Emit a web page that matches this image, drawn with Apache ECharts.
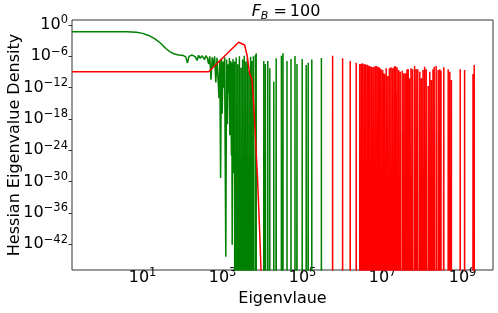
<!DOCTYPE html>
<html><head><meta charset="utf-8">
<script src="https://cdn.jsdelivr.net/npm/echarts@6/dist/echarts.min.js"></script>
<style>html,body{margin:0;padding:0;background:#fff}#c{width:498px;height:313px}</style>
</head><body><div id="c"></div>
<script>
// All values are log10 exponents (log-log chart). null = zero density (log10 -> -inf).
const Z = null;
const xName = 'Eigenvlaue';
const yName = 'Hessian Eigenvalue Density';
const xRange = [-0.765, 9.76];
const yRange = [-46.93, 0.96];
const xTickExponents = [1, 3, 5, 7, 9];
const yTickExponents = [0, -6, -12, -18, -24, -30, -36, -42];

// [log10(eigenvalue), log10(density)]
const greenPoints = [
[-0.77,-1.28],[0.3,-1.28],[0.6,-1.3],[0.85,-1.4],[1.0,-1.6],[1.15,-2.0],[1.3,-2.6],[1.45,-3.5],[1.58,-4.5],[1.68,-5.1],[1.78,-5.5],[1.9,-5.75],[2.02,-5.86],
[2.08,-6.1],[2.12,-7.3],[2.16,-6.0],[2.2,-6.2],[2.24,-5.75],[2.28,-6.0],[2.32,-6.1],[2.36,-6.8],[2.4,-5.8],[2.44,-6.4],[2.48,-5.9],[2.52,-5.6],[2.55,-6.6],[2.58,-5.9],[2.62,-6.3],[2.65,-7.5],[2.68,-6.0],[2.71,-10.5],[2.74,-6.2],[2.77,-8.0],[2.8,-6.0],[2.83,-11.0],[2.86,-6.3],
[2.89,-6.5],[2.91,-14],[2.93,-6.8],[2.95,-29.3],[2.97,-6.4],[2.99,-17],[3.01,-7.0],[3.03,-12],[3.05,-6.2],[3.08,-44.4],[3.10,-6.6],[3.12,-19],[3.14,-7.5],[3.16,-13],[3.17,-6.3],[3.18,-21.1],[3.2,-6.9],[3.22,-25],[3.23,-7.2],[3.24,-42.1],[3.26,-6.5],[3.28,-28.4],[3.30,-7.0],
[3.32,Z],[3.34,-6.2],[3.36,Z],[3.38,-7.5],[3.40,Z],[3.42,-6.0],[3.44,Z],[3.46,-8.2],[3.48,Z],[3.50,-6.6],[3.52,Z],[3.54,-5.9],[3.56,Z],[3.58,-7.0],[3.60,Z],[3.62,-6.3],[3.64,Z],[3.66,-8.8],[3.68,Z],[3.70,-6.1],[3.72,Z],[3.73,-6.9],[3.75,Z],[3.77,-6.0],[3.79,Z],[3.81,Z],[3.82,-5.75],[3.83,Z],[3.84,-5.42],[3.85,Z],
[4.02,Z],[4.03,-6.89],[4.05,Z],[4.07,-7.47],[4.09,Z],[4.12,Z],[4.13,-6.89],[4.14,Z],[4.17,Z],[4.18,-8.3],[4.19,Z],[4.27,Z],[4.28,-10.86],[4.29,Z],[4.33,Z],[4.34,-6.38],[4.35,Z],
[4.46,Z],[4.47,-5.88],[4.48,Z],[4.50,Z],[4.51,-5.42],[4.52,Z],[4.60,Z],[4.61,-6.89],[4.62,Z],[4.70,Z],[4.71,-6.51],[4.72,Z],[4.80,Z],[4.81,-5.94],[4.82,Z],[4.85,Z],[4.86,-7.47],[4.87,Z],
[4.98,Z],[4.99,-6.51],[5.00,Z],[5.08,Z],[5.09,-7.66],[5.10,Z],[5.13,Z],[5.14,-7.22],[5.15,Z],[5.22,Z],[5.23,-6.61],[5.24,Z],[5.46,Z],[5.47,-6.32],[5.48,Z],[9.76,Z]
];

const redPoints = [
[-0.77,-8.94],[2.65,-8.94],[3.40,-3.31],[3.55,-3.83],[3.61,-5.75],[3.675,-9.25],[3.735,-10.53],[3.76,-13.1],[3.79,-16.85],[3.875,-29.69],[3.925,-39.26],[3.96,-46.93],[4.0,Z],
[5.74,Z],[5.75,-5.88],[5.76,Z],[5.99,Z],[6.00,-6.38],[6.01,Z],[6.18,Z],[6.19,-6.90],[6.20,Z],[6.33,Z],[6.34,-7.22],[6.35,Z],[6.42,Z],[6.43,-7.47],[6.45,Z],[6.47,-7.4],[6.49,Z],[6.50,-7.34],[6.52,Z],[6.54,-7.5],[6.56,Z],[6.57,-7.53],[6.59,Z],[6.61,-7.6],[6.62,Z],[6.63,-7.66],[6.65,Z],[6.66,-7.9],[6.67,Z],[6.68,-7.85],[6.70,Z],[6.72,-8.0],[6.73,Z],[6.74,-8.10],[6.76,Z],[6.78,-7.99],[6.80,Z],[6.82,-7.9],[6.83,Z],[6.84,-7.85],[6.86,Z],[6.88,-7.99],[6.90,Z],[6.91,-8.1],[6.92,Z],[6.93,-8.29],[6.94,Z],[6.96,-8.48],[6.98,Z],[7.00,-8.62],[7.01,Z],[7.03,-9.25],[7.04,Z],[7.05,-9.44],[7.07,Z],[7.09,-8.29],[7.11,Z],[7.13,-9.77],[7.15,Z],[7.17,-8.29],[7.19,Z],[7.21,-8.10],[7.23,Z],[7.25,-8.29],[7.27,Z],[7.29,-8.0],[7.30,Z],[7.32,-7.85],[7.33,Z],[7.34,-13.02],[7.35,Z],[7.36,-8.10],[7.38,Z],[7.40,-8.62],[7.42,Z],[7.44,-8.94],[7.46,Z],[7.49,-8.75],[7.51,Z],[7.53,-9.25],[7.55,Z],[7.57,-9.25],[7.58,Z],[7.59,-9.39],[7.60,Z],[7.61,-8.48],[7.62,Z],[7.64,-8.48],[7.655,Z],[7.67,-10.21],[7.69,Z],[7.71,-8.29],[7.73,Z],[7.75,-8.48],[7.77,Z],[7.80,-7.85],[7.82,Z],[7.84,-8.48],[7.86,Z],[7.88,-8.48],[7.90,Z],[7.93,-8.94],[7.95,Z],[7.97,-10.21],[7.99,Z],[8.01,-8.6],[8.03,Z],[8.05,-7.99],[8.07,Z],[8.09,-8.48],[8.11,Z],[8.14,-11.68],[8.16,Z],[8.18,-8.94],[8.20,Z],[8.22,-10.53],[8.24,Z],[8.26,-8.48],[8.275,Z],[8.29,-7.99],[8.31,Z],[8.34,-7.85],[8.36,Z],[8.39,-8.62],[8.41,Z],[8.43,-8.48],[8.445,Z],[8.46,-8.75],[8.47,Z],[8.52,Z],[8.53,-8.10],[8.54,Z],[8.63,Z],[8.64,-8.48],[8.66,Z],[8.68,-8.94],[8.70,Z],[8.72,-10.53],[8.73,Z],[8.93,Z],[8.94,-8.48],[8.95,Z],[9.04,Z],[9.05,-8.62],[9.06,Z],[9.25,Z],[9.26,-9.39],[9.27,Z],[9.28,Z],[9.29,-7.66],[9.30,Z],[9.76,Z]
];

const FLOOR = -400; // where log10(0) is drawn (far below the axis, clipped)
const toData = pts => pts.map(([x, y]) => [x, y === null ? FLOOR : y]);
const expLabel = v => { const e = Math.round(v); return '{b|10}{s|' + (e < 0 ? '\u2212' + (-e) : String(e)) + '}'; };
const FONT = 'DejaVu Sans';
const richLbl = {
  b: { fontFamily: FONT, fontSize: 16, color: '#000', lineHeight: 16 },
  s: { fontFamily: FONT, fontSize: 11.5, color: '#000', lineHeight: 16, padding: [0, 0, 9, 0] }
};

const chart = echarts.init(document.getElementById('c'), null, { renderer: 'canvas' });
chart.setOption({
  animation: false,
  backgroundColor: '#fff',
  title: {
    text: '{i|F}{sub|B}{eq|=}{n|100}',
    left: 281, top: -3, textAlign: 'center',
    textStyle: {
      fontWeight: 'normal',
      rich: {
        i: { fontFamily: FONT, fontSize: 16, fontStyle: 'italic', fontWeight: 'normal', color: '#000', lineHeight: 20, verticalAlign: 'middle' },
        sub: { fontFamily: FONT, fontSize: 11, fontStyle: 'italic', fontWeight: 'normal', color: '#000', lineHeight: 12, verticalAlign: 'bottom' },
        eq: { fontFamily: FONT, fontSize: 16, fontWeight: 'normal', color: '#000', lineHeight: 20, verticalAlign: 'middle', padding: [0, 3, 0, 5] },
        n: { fontFamily: FONT, fontSize: 16, fontWeight: 'normal', color: '#000', lineHeight: 20, verticalAlign: 'middle' }
      }
    }
  },
  grid: { left: 72, right: 5, top: 20, bottom: 43, show: true, borderColor: '#333', borderWidth: 1, backgroundColor: 'transparent', containLabel: false, outerBoundsMode: 'none' },
  xAxis: {
    type: 'value', min: xRange[0], max: xRange[1],
    name: xName, nameLocation: 'middle', nameGap: 21, nameMoveOverlap: false,
    nameTextStyle: { fontFamily: FONT, fontSize: 16, color: '#000' },
    axisLine: { show: false, onZero: false },
    splitLine: { show: false },
    axisTick: { show: true, length: 3.5, lineStyle: { color: '#333' }, customValues: xTickExponents },
    axisLabel: { margin: 0, formatter: expLabel, rich: richLbl, customValues: xTickExponents }
  },
  yAxis: {
    type: 'value', min: yRange[0], max: yRange[1],
    name: yName, nameLocation: 'middle', nameGap: 49, nameMoveOverlap: false,
    nameTextStyle: { fontFamily: FONT, fontSize: 16, color: '#000' },
    axisLine: { show: false, onZero: false },
    splitLine: { show: false },
    axisTick: { show: true, length: 3.5, lineStyle: { color: '#333' }, customValues: yTickExponents },
    axisLabel: { margin: 4, formatter: expLabel, rich: richLbl, customValues: yTickExponents }
  },
  series: [
    { type: 'line', data: toData(greenPoints), showSymbol: false, clip: true, lineStyle: { color: '#008000', width: 1.5 }, itemStyle: { color: '#008000' } },
    { type: 'line', data: toData(redPoints), showSymbol: false, clip: true, lineStyle: { color: '#ff0000', width: 1.5 }, itemStyle: { color: '#ff0000' } }
  ]
});
</script></body></html>
